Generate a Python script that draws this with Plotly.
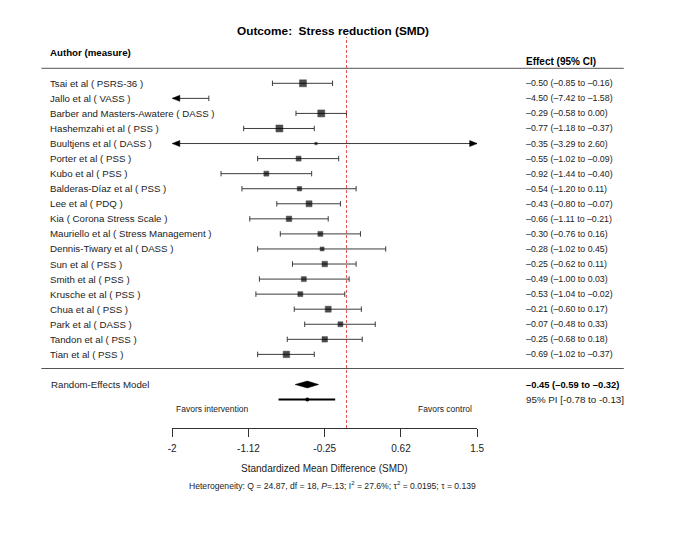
import plotly.graph_objects as go

# ---------------- data ----------------
studies = [
    "Tsai et al ( PSRS-36 )",
    "Jallo et al ( VASS )",
    "Barber and Masters-Awatere ( DASS )",
    "Hashemzahi et al ( PSS )",
    "Buultjens et al ( DASS )",
    "Porter et al ( PSS )",
    "Kubo et al ( PSS )",
    "Balderas-Díaz et al ( PSS )",
    "Lee et al ( PDQ )",
    "Kia ( Corona Stress Scale )",
    "Mauriello et al ( Stress Management )",
    "Dennis-Tiwary et al ( DASS )",
    "Sun et al ( PSS )",
    "Smith et al ( PSS )",
    "Krusche et al ( PSS )",
    "Chua et al ( PSS )",
    "Park et al ( DASS )",
    "Tandon et al ( PSS )",
    "Tian et al ( PSS )",
]
est = [-0.50, -4.50, -0.29, -0.77, -0.35, -0.55, -0.92, -0.54, -0.43, -0.66,
       -0.30, -0.28, -0.25, -0.49, -0.53, -0.21, -0.07, -0.25, -0.69]
lo = [-0.85, -7.42, -0.58, -1.18, -3.29, -1.02, -1.44, -1.20, -0.80, -1.11,
      -0.76, -1.02, -0.62, -1.00, -1.04, -0.60, -0.48, -0.68, -1.02]
hi = [-0.16, -1.58, 0.00, -0.37, 2.60, -0.09, -0.40, 0.11, -0.07, -0.21,
      0.16, 0.45, 0.11, 0.03, -0.02, 0.17, 0.33, 0.18, -0.37]
weight = [7, 7, 7, 7, 2.5, 5, 5, 4.5, 6, 5.5, 5, 4, 5.5, 5, 5, 6, 5, 5.5, 6.5]

model_label = "Random-Effects Model"
model_est, model_lo, model_hi = -0.45, -0.59, -0.32
pi_lo, pi_hi = -0.78, -0.13

tickvals = [-2, -1.125, -0.25, 0.625, 1.5]
ticktext = ["-2", "-1.12", "-0.25", "0.62", "1.5"]
xmin, xmax = -2.0, 1.5

title = "<b>Outcome:  Stress reduction (SMD)</b>"
xlabel = "Standardized Mean Difference (SMD)"
hetero = ("Heterogeneity: Q = 24.87, df = 18, <i>P</i>=.13; I<sup>2</sup> = 27.6%; "
          "τ<sup>2</sup> = 0.0195; τ = 0.139")

# ---------------- layout helpers ----------------
W, H = 681, 544
X0PX, X1PX = 171, 481          # pixel positions of xmin / xmax
ROW0PX, ROWSTEP = 83.3, 15.06  # pixel of first row, row spacing
TOPPX, BOTPX = 37, 428         # plot area top / bottom (axis line)
PXPERUNIT = (X1PX - X0PX) / (xmax - xmin)

def px(x):
    return x / W

def py(y):
    return 1 - y / H

def row_of(ypx):
    return (ypx - ROW0PX) / ROWSTEP

FONT = "Liberation Sans, Arial, sans-serif"
LINEC = "#3c3c3c"
TXTC = "#222222"

n = len(studies)
model_row = n + 1
pi_row = n + 2

fig = go.Figure()

# CI lines
lx, ly = [], []
cx, cy = [], []
cap = 2.7 / ROWSTEP
arr_x, arr_y = [], []
alen = 7.7 / PXPERUNIT
ah = 3.0 / ROWSTEP
for i in range(n):
    a = max(lo[i], xmin)
    b = min(hi[i], xmax)
    lx += [a, b, None]
    ly += [i, i, None]
    if lo[i] >= xmin:
        cx += [lo[i], lo[i], None]
        cy += [i - cap, i + cap, None]
    else:
        arr_x += [xmin, xmin + alen, xmin + alen, xmin, None]
        arr_y += [i, i - ah, i + ah, i, None]
    if hi[i] <= xmax:
        cx += [hi[i], hi[i], None]
        cy += [i - cap, i + cap, None]
    else:
        arr_x += [xmax, xmax - alen, xmax - alen, xmax, None]
        arr_y += [i, i - ah, i + ah, i, None]

fig.add_trace(go.Scatter(x=lx, y=ly, mode="lines",
                         line=dict(color=LINEC, width=1), hoverinfo="skip"))
fig.add_trace(go.Scatter(x=cx, y=cy, mode="lines",
                         line=dict(color=LINEC, width=1), hoverinfo="skip"))
fig.add_trace(go.Scatter(x=arr_x, y=arr_y, mode="lines", fill="toself",
                         fillcolor="black", line=dict(color="black", width=0.5),
                         hoverinfo="skip"))

# squares (only for estimates inside the axis range)
sx, sy, ss = [], [], []
for i in range(n):
    if xmin <= est[i] <= xmax:
        sx.append(est[i]); sy.append(i); ss.append(weight[i])
fig.add_trace(go.Scatter(x=sx, y=sy, mode="markers",
                         marker=dict(symbol="square", size=ss, color="black",
                                     line=dict(width=0.5, color="black")),
                         hoverinfo="skip"))

# diamond
dh = 3.4 / ROWSTEP
fig.add_trace(go.Scatter(
    x=[model_lo, model_est, model_hi, model_est, model_lo],
    y=[model_row, model_row - dh, model_row, model_row + dh, model_row],
    mode="lines", fill="toself", fillcolor="black",
    line=dict(color="black", width=0.5), hoverinfo="skip"))

# prediction interval
fig.add_trace(go.Scatter(x=[pi_lo, pi_hi], y=[pi_row, pi_row], mode="lines",
                         line=dict(color="black", width=2), hoverinfo="skip"))
fig.add_trace(go.Scatter(x=[model_est], y=[pi_row], mode="markers",
                         marker=dict(symbol="circle", size=4, color="black"),
                         hoverinfo="skip"))

shapes = [
    dict(type="line", xref="x", yref="y domain", x0=0, x1=0, y0=0, y1=1,
         line=dict(color="#e23c3c", width=0.9, dash="3px,2px")),
    dict(type="line", xref="paper", yref="paper", x0=px(38), x1=px(630),
         y0=py(68.3), y1=py(68.3), line=dict(color="#555555", width=1)),
    dict(type="line", xref="paper", yref="paper", x0=px(38), x1=px(630),
         y0=py(368.5), y1=py(368.5), line=dict(color="#555555", width=1)),
]

ann = []
def fmt(v):
    return f"{v:.2f}".replace("-", "–")

for i in range(n):
    ann.append(dict(x=px(45), y=i, xref="paper", yref="y", text=studies[i],
                    showarrow=False, xanchor="left", yanchor="middle",
                    font=dict(family=FONT, size=9.7, color=TXTC)))
    ann.append(dict(x=px(529), y=i, xref="paper", yref="y",
                    text=f"{fmt(est[i])} ({fmt(lo[i])} to {fmt(hi[i])})",
                    showarrow=False, xanchor="left", yanchor="middle",
                    font=dict(family=FONT, size=8.8, color=TXTC)))

ann += [
    dict(x=px(334), y=py(31.5), xref="paper", yref="paper", text=title,
         showarrow=False, xanchor="center", yanchor="middle",
         font=dict(family=FONT, size=11.8, color="black")),
    dict(x=px(45), y=py(53), xref="paper", yref="paper",
         text="<b>Author (measure)</b>", showarrow=False, xanchor="left",
         yanchor="middle", font=dict(family=FONT, size=9.7, color="black")),
    dict(x=px(529), y=py(61.7), xref="paper", yref="paper",
         text="<b>Effect (95% CI)</b>", showarrow=False, xanchor="left",
         yanchor="middle", font=dict(family=FONT, size=10, color="black")),
    dict(x=px(46), y=model_row, xref="paper", yref="y", text=model_label,
         showarrow=False, xanchor="left", yanchor="middle",
         font=dict(family=FONT, size=9.7, color=TXTC)),
    dict(x=px(529), y=model_row, xref="paper", yref="y",
         text=f"<b>{fmt(model_est)} ({fmt(model_lo)} to {fmt(model_hi)})</b>",
         showarrow=False, xanchor="left", yanchor="middle",
         font=dict(family=FONT, size=9.4, color="black")),
    dict(x=px(529), y=pi_row, xref="paper", yref="y",
         text=f"95% PI [{pi_lo:.2f} to {pi_hi:.2f}]",
         showarrow=False, xanchor="left", yanchor="middle",
         font=dict(family=FONT, size=9.8, color=TXTC)),
    dict(x=px(212), y=row_of(408.5), xref="paper", yref="y",
         text="Favors intervention", showarrow=False, xanchor="center",
         yanchor="middle", font=dict(family=FONT, size=8.5, color=TXTC)),
    dict(x=px(448), y=row_of(408.5), xref="paper", yref="y",
         text="Favors control", showarrow=False, xanchor="center",
         yanchor="middle", font=dict(family=FONT, size=8.5, color=TXTC)),
    dict(x=px(326), y=py(468), xref="paper", yref="paper", text=xlabel,
         showarrow=False, xanchor="center", yanchor="middle",
         font=dict(family=FONT, size=10, color=TXTC)),
    dict(x=px(333.5), y=py(485.5), xref="paper", yref="paper", text=hetero,
         showarrow=False, xanchor="center", yanchor="middle",
         font=dict(family=FONT, size=8.6, color=TXTC)),
]

fig.update_layout(
    width=W, height=H, margin=dict(l=0, r=0, t=0, b=0),
    paper_bgcolor="white", plot_bgcolor="white", showlegend=False,
    shapes=shapes, annotations=ann,
    xaxis=dict(domain=[px(X0PX), px(X1PX)], range=[xmin, xmax],
               showgrid=False, zeroline=False, showline=True,
               linecolor="#333333", linewidth=1, ticks="outside", ticklen=8,
               tickcolor="#333333", tickwidth=1, tickvals=tickvals,
               ticktext=ticktext, ticklabelstandoff=3,
               tickfont=dict(family=FONT, size=10, color=TXTC)),
    yaxis=dict(domain=[py(BOTPX), py(TOPPX)],
               range=[row_of(BOTPX), row_of(TOPPX)], visible=False),
)
for tr in fig.data:
    tr.cliponaxis = False

fig.write_html("out.html")
